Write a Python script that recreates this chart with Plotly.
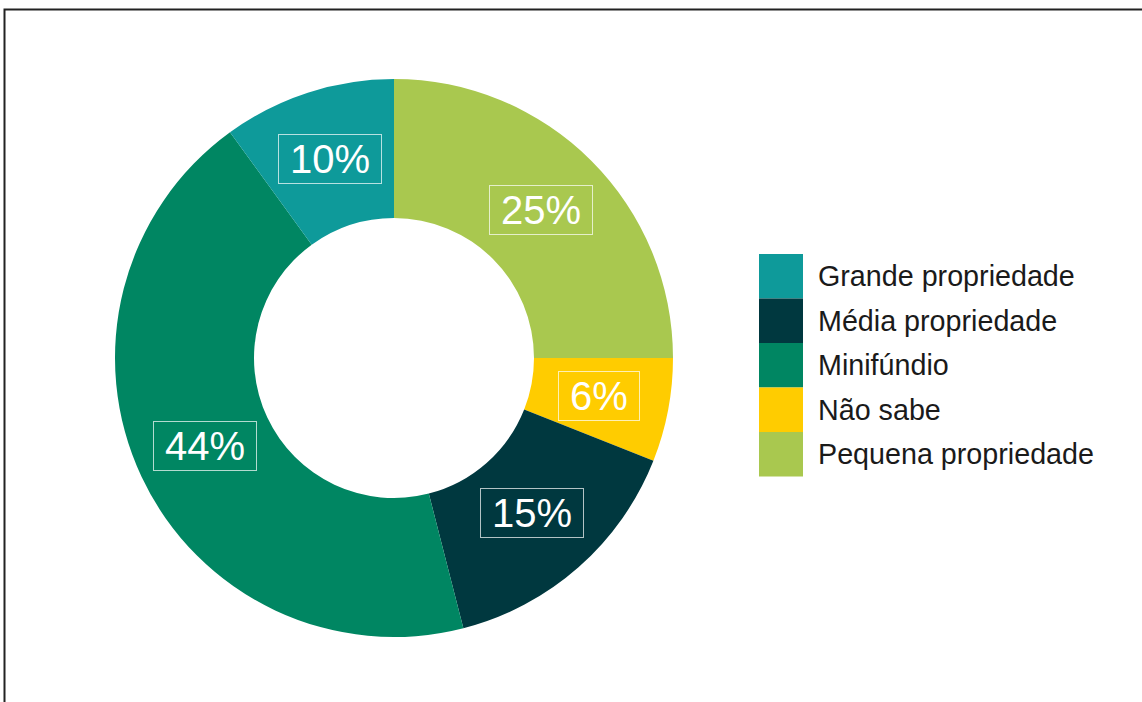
import math
import plotly.graph_objects as go

# Land-holding categories in drawing order (clockwise from 12 o'clock)
categories = ["Pequena propriedade", "Não sabe", "Média propriedade", "Minifúndio", "Grande propriedade"]
shares = [25, 6, 15, 44, 10]
colors = ["#A9C84F", "#FFCC00", "#00383F", "#008662", "#0E9A9A"]

# Legend order (alphabetical)
legend_order = ["Grande propriedade", "Média propriedade", "Minifúndio", "Não sabe", "Pequena propriedade"]

W, H = 1142, 702
cx, cy, r_out, r_in = 394, 358, 279, 140

fig = go.Figure(go.Pie(
    labels=categories,
    values=shares,
    sort=False,
    direction="clockwise",
    rotation=0,
    hole=r_in / r_out,
    marker=dict(colors=colors, line=dict(width=0)),
    textinfo="none",
    hoverinfo="label+percent",
    showlegend=False,
    domain=dict(x=[(cx - r_out) / W, (cx + r_out) / W],
                y=[1 - (cy + r_out) / H, 1 - (cy - r_out) / H]),
))

# Boxed percentage labels at the middle of each ring segment
annotations = []
total = sum(shares)
acc = 0
r_mid = (r_out + r_in) / 2 - 1
for v in shares:
    mid = (acc + v / 2) / total * 2 * math.pi
    acc += v
    px = cx + r_mid * math.sin(mid)
    py = cy - r_mid * math.cos(mid)
    label = f"{round(v / total * 100)}%"
    annotations.append(dict(
        x=px / W, y=1 - (py - 1) / H, xref="paper", yref="paper",
        text=label, showarrow=False,
        font=dict(family="Liberation Sans, Arial, sans-serif", size=40, color="white"),
        width=(len(label) * 22 + 32), height=44, align="center", valign="middle",
        bordercolor="rgba(255,255,255,0.7)", borderwidth=1, borderpad=2,
        xanchor="center", yanchor="middle",
    ))

# Custom legend with large colour swatches
shapes = []
row_h = 44.5
top = 254
color_of = dict(zip(categories, colors))
for i, name in enumerate(legend_order):
    y0 = top + i * row_h
    shapes.append(dict(
        type="rect", xref="paper", yref="paper",
        x0=759 / W, x1=803 / W, y0=1 - (y0 + row_h) / H, y1=1 - y0 / H,
        fillcolor=color_of[name], line=dict(width=0),
    ))
    annotations.append(dict(
        x=816 / W, y=1 - (y0 + row_h / 2) / H, xref="paper", yref="paper",
        text=name, showarrow=False, xanchor="left", yanchor="middle",
        font=dict(family="Liberation Sans, Arial, sans-serif", size=28.7, color="#1a1a1a"),
    ))

# Outer frame (left and top edges visible)
shapes.append(dict(
    type="rect", xref="paper", yref="paper",
    x0=4.5 / W, x1=1.05, y0=-0.05, y1=1 - 9.5 / H,
    line=dict(color="#222222", width=2), fillcolor="rgba(0,0,0,0)",
))

fig.update_layout(
    width=W, height=H,
    margin=dict(l=0, r=0, t=0, b=0),
    paper_bgcolor="white",
    plot_bgcolor="white",
    annotations=annotations,
    shapes=shapes,
)

fig.write_html("out.html")
